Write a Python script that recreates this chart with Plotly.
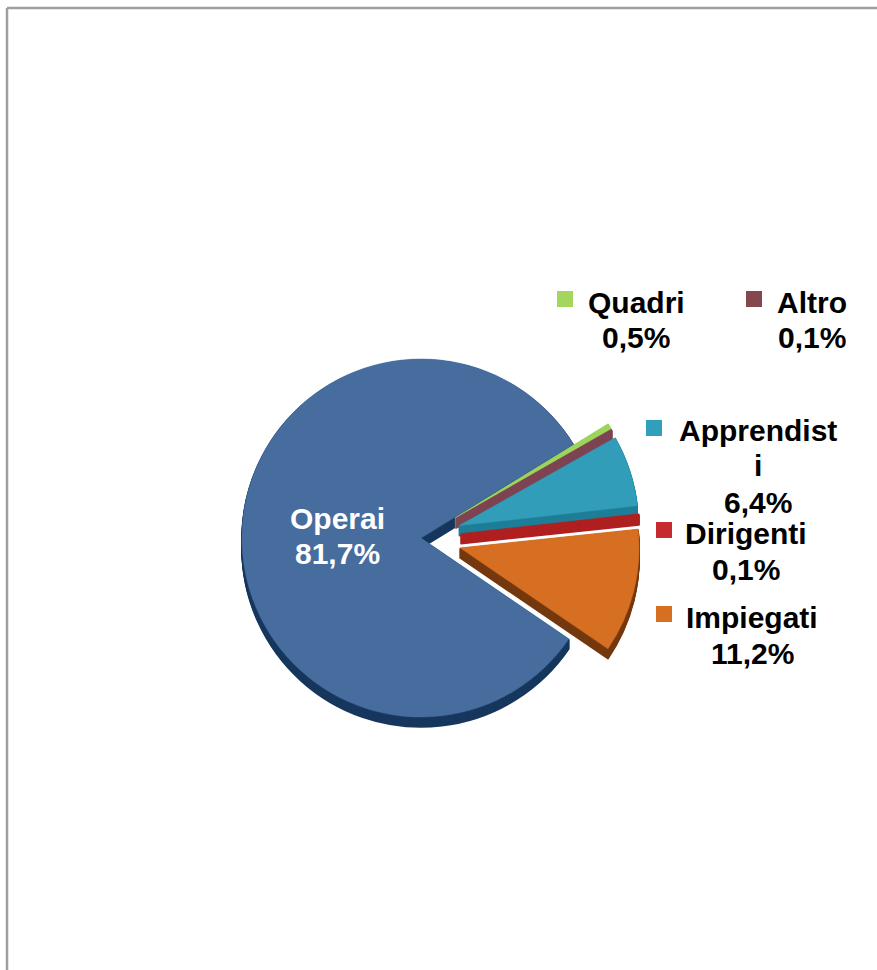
import plotly.graph_objects as go

W, H = 877, 970

categories = ["Operai", "Quadri", "Altro", "Apprendisti", "Dirigenti", "Impiegati"]
values = [81.7, 0.5, 0.1, 6.4, 0.1, 11.2]
value_labels = ["81,7%", "0,5%", "0,1%", "6,4%", "0,1%", "11,2%"]
pulls = [0, 0.225, 0.225, 0.225, 0.225, 0.225]
top_colors = ["#466d9e", "#9dd45c", "#7e4453", "#319db8", "#b02020", "#d66f22"]
side_colors = ["#17375e", "#9dd45c", "#7e4453", "#1e7e98", "#b02020", "#75390f"]
key_colors = ["#466d9e", "#a4d65e", "#84464f", "#2f9fbb", "#c62a2f", "#d66f21"]

ROT = 124.3
RADIUS = 179
APEX_X, APEX_Y = 421, 538
DEPTH = 10
DOM = RADIUS * (1 + max(pulls))


def pie(dy, colors, line_w):
    return go.Pie(
        labels=categories, values=values, pull=pulls, sort=False,
        direction="clockwise", rotation=ROT, textinfo="none", hoverinfo="label+value",
        showlegend=False,
        marker=dict(colors=colors, line=dict(color=colors, width=line_w)),
        domain=dict(
            x=[(APEX_X - DOM) / W, (APEX_X + DOM) / W],
            y=[1 - (APEX_Y + dy + DOM) / H, 1 - (APEX_Y + dy - DOM) / H],
        ),
    )


fig = go.Figure()
for d in range(DEPTH, 0, -1):
    fig.add_trace(pie(d, side_colors, 1.6))
fig.add_trace(pie(0, top_colors, 0.5))

# label text, one line at a time, wrapped as in the picture
text_lines = [
    ("Operai", 337, 518, "white"), (value_labels[0], 337, 553, "white"),
    ("Quadri", 636, 302, "black"), (value_labels[1], 636, 337, "black"),
    ("Altro", 812, 302, "black"), (value_labels[2], 812, 337, "black"),
    ("Apprendist", 758, 430, "black"), ("i", 758, 465, "black"), (value_labels[3], 758, 502, "black"),
    ("Dirigenti", 746, 533, "black"), (value_labels[4], 746, 569, "black"),
    ("Impiegati", 752, 617, "black"), (value_labels[5], 752, 653, "black"),
]
annotations = [
    dict(text=f"<b>{t}</b>", x=x / W, y=1 - y / H, xref="paper", yref="paper",
         xanchor="center", yanchor="middle", showarrow=False,
         font=dict(family="Liberation Sans", size=30, color=c))
    for t, x, y, c in text_lines
]

key_pos = {1: (557, 291), 2: (746, 291), 3: (646, 420), 4: (656, 522), 5: (656, 606)}
shapes = [
    dict(type="rect", xref="paper", yref="paper", x0=x / W, x1=(x + 16) / W,
         y0=1 - (y + 16) / H, y1=1 - y / H, fillcolor=key_colors[i], line_width=0)
    for i, (x, y) in key_pos.items()
]
border = dict(color="#a0a0a0", width=2.5)
shapes += [
    dict(type="line", xref="paper", yref="paper", x0=7 / W, x1=1, y0=1 - 8 / H, y1=1 - 8 / H, line=border),
    dict(type="line", xref="paper", yref="paper", x0=7 / W, x1=7 / W, y0=0, y1=1 - 8 / H, line=border),
]

fig.update_layout(
    width=W, height=H, margin=dict(l=0, r=0, t=0, b=0),
    paper_bgcolor="white", plot_bgcolor="white",
    annotations=annotations, shapes=shapes,
)
fig.write_html("out.html", config={"displayModeBar": False},
               post_script="document.body.style.margin='0';")
